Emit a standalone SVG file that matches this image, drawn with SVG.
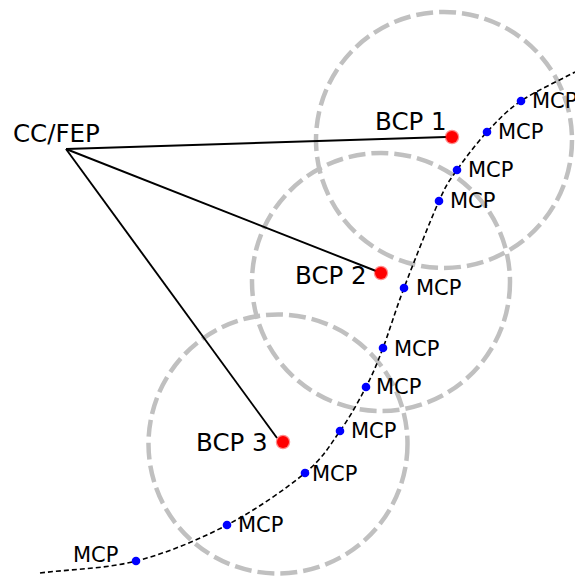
<svg xmlns="http://www.w3.org/2000/svg" width="575" height="578" viewBox="0 0 575 578">
<style>
.range{fill:none;stroke:#c0c0c0;stroke-width:4.5;stroke-dasharray:17 6}
.link{stroke:#000;stroke-width:1.9;fill:none}
.path{fill:none;stroke:#000;stroke-width:1.6;stroke-dasharray:5 3}
.bcp{fill:#ff0000;stroke:#ff0000;stroke-opacity:0.45;stroke-width:2.5}
.mcp{fill:#0000ff}
.big{font-family:"DejaVu Sans",sans-serif;font-size:24.5px;fill:#000}
.small{font-family:"DejaVu Sans",sans-serif;font-size:21px;fill:#000}
</style>
<rect width="575" height="578" fill="#fff"/>
<g id="ranges">
<circle class="range" cx="444" cy="140" r="128"/>
<circle class="range" cx="381" cy="282" r="129"/>
<circle class="range" cx="278" cy="444" r="129.5"/>
</g>
<g id="connectors">
<line class="link" x1="66" y1="149" x2="446" y2="137"/>
<line class="link" x1="66" y1="149" x2="376" y2="271"/>
<line class="link" x1="66" y1="149" x2="277" y2="438"/>
<path class="path" d="M40,573 C72,569 104.8,569 136,561 C167.2,553 198.8,539.7 227,525 C255.2,510.3 286.2,488.7 305,473 C323.8,457.3 329.8,445.3 340,431 C350.2,416.7 358.8,400.8 366,387 C373.2,373.2 376.7,364.5 383,348 C389.3,331.5 394.7,312.5 404,288 C413.3,263.5 430.2,220.7 439,201 C447.8,181.3 449,181.5 457,170 C465,158.5 476.3,143.5 487,132 C497.7,120.5 506.3,111 521,101 C535.7,91 557,81.7 575,72"/>
</g>
<g id="ccfep"><text class="big" x="13" y="142">CC/FEP</text></g>
<g id="bcp1"><circle class="bcp" cx="452" cy="137" r="6"/><text class="big" x="375" y="130">BCP 1</text></g>
<g id="bcp2"><circle class="bcp" cx="381" cy="273" r="6"/><text class="big" x="295" y="284">BCP 2</text></g>
<g id="bcp3"><circle class="bcp" cx="283" cy="442" r="6"/><text class="big" x="196" y="451">BCP 3</text></g>
<g id="mcp1"><circle class="mcp" cx="136" cy="561" r="4.3"/><text class="small" x="73" y="562">MCP</text></g>
<g id="mcp2"><circle class="mcp" cx="227" cy="525" r="4.3"/><text class="small" x="238" y="532">MCP</text></g>
<g id="mcp3"><circle class="mcp" cx="305" cy="473" r="4.3"/><text class="small" x="312" y="481">MCP</text></g>
<g id="mcp4"><circle class="mcp" cx="340" cy="431" r="4.3"/><text class="small" x="351" y="438">MCP</text></g>
<g id="mcp5"><circle class="mcp" cx="366" cy="387" r="4.3"/><text class="small" x="376" y="394">MCP</text></g>
<g id="mcp6"><circle class="mcp" cx="383" cy="348" r="4.3"/><text class="small" x="394" y="356">MCP</text></g>
<g id="mcp7"><circle class="mcp" cx="404" cy="288" r="4.3"/><text class="small" x="416" y="295">MCP</text></g>
<g id="mcp8"><circle class="mcp" cx="439" cy="201" r="4.3"/><text class="small" x="450" y="208">MCP</text></g>
<g id="mcp9"><circle class="mcp" cx="457" cy="170" r="4.3"/><text class="small" x="468" y="177">MCP</text></g>
<g id="mcp10"><circle class="mcp" cx="487" cy="132" r="4.3"/><text class="small" x="498" y="139">MCP</text></g>
<g id="mcp11"><circle class="mcp" cx="521" cy="101" r="4.3"/><text class="small" x="532" y="108">MCP</text></g>
</svg>
